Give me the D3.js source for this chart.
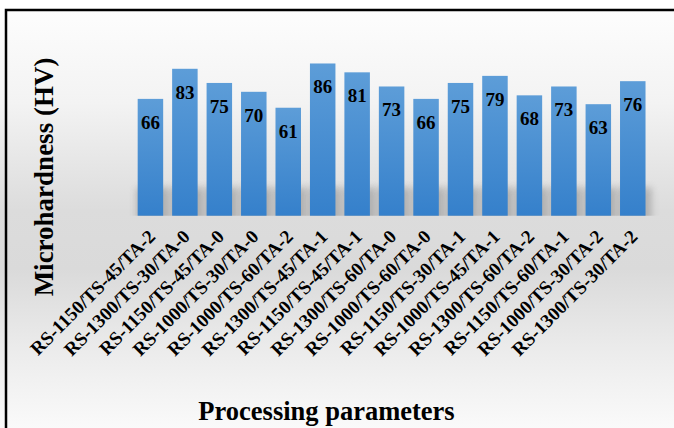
<!DOCTYPE html>
<html>
<head>
<meta charset="utf-8">
<script src="https://cdn.jsdelivr.net/npm/d3@7"></script>
<style>
  html, body { margin: 0; padding: 0; background: #ffffff; }
  svg { display: block; }
  text { font-family: "Liberation Serif", "Times New Roman", serif; font-weight: bold; fill: #000; }
</style>
</head>
<body>
<svg id="chart" width="674" height="428"></svg>
<script>
// Processing parameter combinations (roll speed / time / annealing)
const categories = [
  "RS-1150/TS-45/TA-2", "RS-1300/TS-30/TA-0", "RS-1150/TS-45/TA-0",
  "RS-1000/TS-30/TA-0", "RS-1000/TS-60/TA-2", "RS-1300/TS-45/TA-1",
  "RS-1150/TS-45/TA-1", "RS-1300/TS-60/TA-0", "RS-1000/TS-60/TA-0",
  "RS-1150/TS-30/TA-1", "RS-1000/TS-45/TA-1", "RS-1300/TS-60/TA-2",
  "RS-1150/TS-60/TA-1", "RS-1000/TS-30/TA-2", "RS-1300/TS-30/TA-2"
];
// Microhardness in HV
const hardness = [66, 83, 75, 70, 61, 86, 81, 73, 66, 75, 79, 68, 73, 63, 76];

const xTitle = "Processing parameters";
const yTitle = "Microhardness (HV)";

const W = 674, H = 428;
const svg = d3.select("#chart");
const defs = svg.append("defs");

// Chart-area background: light at the top, grey around the floor, light again below
const bg = defs.append("linearGradient").attr("id", "bgGrad")
  .attr("x1", 0).attr("y1", 0).attr("x2", 0).attr("y2", 1);
[[0, "#fdfdfd"], [0.22, "#f3f3f3"], [0.48, "#dcdcdc"], [0.62, "#dadada"], [0.82, "#ececec"], [1, "#fafafa"]]
  .forEach(([o, c]) => bg.append("stop").attr("offset", o).attr("stop-color", c));

const barGrad = defs.append("linearGradient").attr("id", "barGrad")
  .attr("x1", 0).attr("y1", 0).attr("x2", 0).attr("y2", 1);
barGrad.append("stop").attr("offset", 0).attr("stop-color", "#5d9dd8");
barGrad.append("stop").attr("offset", 1).attr("stop-color", "#3580cb");

defs.append("filter").attr("id", "soft").attr("x", "-50%").attr("y", "-50%")
  .attr("width", "200%").attr("height", "200%")
  .append("feGaussianBlur").attr("stdDeviation", 3.5);

// Scales
const x = d3.scaleBand().domain(categories).range([133.2, 650]).paddingInner(0.26).paddingOuter(0.13);
const y = d3.scaleLinear().domain([0, 100]).range([215.7, 38.7]);
const base = y(0);

defs.append("clipPath").attr("id", "floorClip")
  .append("rect").attr("x", 0).attr("y", 0).attr("width", W).attr("height", base);

svg.append("rect").attr("x", 0).attr("y", 10).attr("width", W).attr("height", H - 10)
  .attr("fill", "url(#bgGrad)");

// Soft floor shadows behind each bar
svg.append("g").attr("clip-path", "url(#floorClip)")
  .selectAll("rect").data(hardness).join("rect")
  .attr("x", (d, i) => x(categories[i]) - 1)
  .attr("y", base - 28)
  .attr("width", x.bandwidth() + 7)
  .attr("height", 40)
  .attr("fill", "#9a9a9a")
  .attr("opacity", 0.65)
  .attr("filter", "url(#soft)");

// Bars
svg.append("g").selectAll("rect").data(hardness).join("rect")
  .attr("x", (d, i) => x(categories[i]))
  .attr("y", d => y(d))
  .attr("width", x.bandwidth())
  .attr("height", d => base - y(d))
  .attr("fill", "url(#barGrad)");

// Value labels inside bars
svg.append("g").selectAll("text").data(hardness).join("text")
  .attr("x", (d, i) => x(categories[i]) + x.bandwidth() / 2)
  .attr("y", d => y(d) + 30)
  .attr("text-anchor", "middle")
  .attr("font-size", 19)
  .text(d => d);

// Category axis with rotated labels
const xAxis = svg.append("g").attr("transform", `translate(0,${base})`)
  .call(d3.axisBottom(x).tickSize(0).tickPadding(0));
xAxis.select(".domain").remove();
xAxis.selectAll("text")
  .attr("font-size", 19)
  .attr("font-family", "Liberation Serif, Times New Roman, serif")
  .attr("font-weight", "bold")
  .attr("fill", "#000")
  .attr("text-anchor", "end")
  .attr("dy", 0)
  .attr("transform", "translate(6,22) rotate(-45)");

// Axis titles
svg.append("text")
  .attr("transform", `translate(53,177) rotate(-90)`)
  .attr("text-anchor", "middle")
  .attr("font-size", 27)
  .text(yTitle);

svg.append("text")
  .attr("x", 326.5).attr("y", 420)
  .attr("text-anchor", "middle")
  .attr("font-size", 26.5)
  .text(xTitle);

// Frame
svg.append("path")
  .attr("d", `M6,${H} V10 H${W}`)
  .attr("fill", "none").attr("stroke", "#000").attr("stroke-width", 2.5);
</script>
</body>
</html>
